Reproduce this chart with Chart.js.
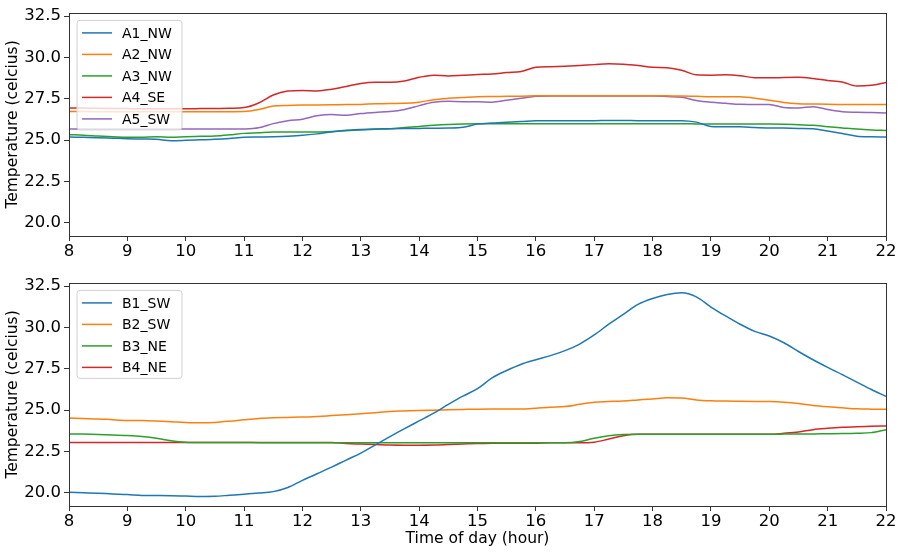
<!DOCTYPE html>
<html><head><meta charset="utf-8">
<script src="https://cdn.jsdelivr.net/npm/chart.js@4.4.1/dist/chart.umd.min.js"></script>
<style>
html,body{margin:0;padding:0;background:#fff;}
#wrap{position:relative;width:902px;height:554px;}
canvas{position:absolute;left:0;}
</style></head>
<body><div id="wrap">
<canvas id="c1" width="902" height="270" style="top:0"></canvas>
<canvas id="c2" width="902" height="284" style="top:270px"></canvas>
</div>
<script>
const hours = [8,8.25,8.5,8.75,9,9.25,9.5,9.75,10,10.25,10.5,10.75,11,11.25,11.5,11.75,12,12.25,12.5,12.75,13,13.25,13.5,13.75,14,14.25,14.5,14.75,15,15.25,15.5,15.75,16,16.25,16.5,16.75,17,17.25,17.5,17.75,18,18.25,18.5,18.75,19,19.25,19.5,19.75,20,20.25,20.5,20.75,21,21.25,21.5,21.75,22];
const xTicks = [8,9,10,11,12,13,14,15,16,17,18,19,20,21,22];
const yTicks = [20.0,22.5,25.0,27.5,30.0,32.5];

const A1_NW = [25.19,25.17,25.15,25.12, 25.09,25.07,25.05,24.97, 24.99,25.02,25.05,25.10, 25.17,25.19,25.21,25.24, 25.29,25.38,25.50,25.60, 25.65,25.68,25.69,25.70, 25.71,25.72,25.73,25.78, 25.97,26.04,26.09,26.13, 26.17,26.18,26.18,26.18, 26.18,26.19,26.19,26.18, 26.18,26.18,26.18,26.09, 25.83,25.81,25.81,25.77, 25.74,25.73,25.71,25.69, 25.55,25.40,25.24,25.20, 25.19];
const A2_NW = [26.73,26.73,26.72,26.72, 26.72,26.72,26.72,26.72, 26.72,26.72,26.72,26.72, 26.73,26.85,27.07,27.10, 27.12,27.13,27.14,27.15, 27.16,27.20,27.22,27.23, 27.30,27.45,27.53,27.58, 27.63,27.64,27.65,27.66, 27.68,27.69,27.69,27.69, 27.69,27.69,27.69,27.69, 27.69,27.68,27.67,27.65, 27.63,27.63,27.62,27.54, 27.41,27.28,27.21,27.19, 27.17,27.16,27.15,27.15, 27.15];
const A3_NW = [25.33,25.30,25.25,25.21, 25.17,25.18,25.21,25.17, 25.21,25.23,25.25,25.32, 25.41,25.45,25.49,25.49, 25.49,25.50,25.53,25.57, 25.62,25.66,25.69,25.76, 25.83,25.90,25.95,25.98, 25.99,25.99,25.99,25.99, 25.99,25.99,25.99,25.99, 25.99,25.99,25.99,25.99, 25.99,25.99,25.99,25.98, 25.98,25.98,25.97,25.97, 25.97,25.96,25.93,25.90, 25.81,25.74,25.67,25.62, 25.59];
const A4_SE = [26.95,26.94,26.93,26.92, 26.91,26.90,26.90,26.90, 26.90,26.91,26.92,26.93, 26.97,27.25,27.73,27.97, 28.01,27.98,28.08,28.25, 28.43,28.50,28.50,28.58, 28.80,28.93,28.88,28.92, 28.97,29.00,29.09,29.16, 29.41,29.44,29.47,29.52, 29.57,29.62,29.60,29.52, 29.41,29.38,29.23,28.95, 28.93,28.95,28.90,28.78, 28.77,28.79,28.80,28.73, 28.61,28.52,28.27,28.32, 28.49];
const A5_SW = [25.67,25.67,25.67,25.67, 25.67,25.67,25.67,25.67, 25.67,25.67,25.67,25.67, 25.68,25.75,26.00,26.18, 26.27,26.47,26.55,26.50, 26.61,26.68,26.73,26.86, 27.09,27.29,27.35,27.33, 27.33,27.30,27.42,27.53, 27.65,27.67,27.67,27.67, 27.67,27.67,27.67,27.67, 27.67,27.64,27.60,27.40, 27.29,27.23,27.17,27.16, 27.15,26.98,26.95,27.02, 26.85,26.72,26.69,26.67, 26.65];

const B1_SW = [20.03,20.00,19.97,19.93, 19.90,19.84,19.83,19.82, 19.80,19.78,19.79,19.85, 19.91,19.98,20.07,20.32, 20.75,21.15,21.55,21.98, 22.40,22.90,23.40,23.88, 24.35,24.82,25.35,25.85, 26.30,26.95,27.40,27.78, 28.05,28.30,28.60,29.00, 29.55,30.20,30.80,31.40, 31.76,32.00,32.10,31.85, 31.24,30.70,30.20,29.77, 29.49,29.08,28.55,28.05, 27.59,27.15,26.70,26.25, 25.83];
const B2_SW = [24.52,24.50,24.47,24.42, 24.38,24.37,24.34,24.30, 24.26,24.24,24.26,24.33, 24.42,24.50,24.54,24.56, 24.58,24.62,24.67,24.72, 24.78,24.85,24.92,24.95, 24.98,25.00,25.02,25.04, 25.06,25.07,25.07,25.07, 25.12,25.18,25.22,25.35, 25.48,25.52,25.56,25.62, 25.68,25.75,25.73,25.62, 25.57,25.55,25.54,25.53, 25.52,25.48,25.40,25.28, 25.20,25.14,25.08,25.06, 25.05];
const B3_NE = [23.56,23.55,23.53,23.50, 23.46,23.40,23.30,23.15, 23.06,23.04,23.04,23.04, 23.04,23.03,23.03,23.03, 23.03,23.02,23.02,23.02, 23.02,23.02,23.02,23.02, 23.02,23.02,23.02,23.02, 23.02,23.02,23.02,23.02, 23.02,23.02,23.02,23.10, 23.30,23.45,23.52,23.54, 23.54,23.54,23.54,23.54, 23.54,23.54,23.54,23.54, 23.54,23.55,23.56,23.56, 23.57,23.58,23.60,23.64, 23.82];
const B4_NE = [23.04,23.04,23.04,23.04, 23.04,23.04,23.04,23.04, 23.04,23.04,23.04,23.04, 23.04,23.04,23.04,23.04, 23.04,23.04,23.04,22.98, 22.95,22.92,22.89,22.88, 22.88,22.89,22.92,22.95, 22.98,23.00,23.00,23.00, 23.00,23.02,23.02,23.02, 23.06,23.25,23.45,23.54, 23.54,23.54,23.54,23.54, 23.54,23.54,23.54,23.54, 23.54,23.60,23.68,23.82, 23.90,23.96,24.00,24.03, 24.04];

const topNames = ['A1_NW','A2_NW','A3_NW','A4_SE','A5_SW'];
const topSeries = [A1_NW,A2_NW,A3_NW,A4_SE,A5_SW];
const botNames = ['B1_SW','B2_SW','B3_NE','B4_NE'];
const botSeries = [B1_SW,B2_SW,B3_NE,B4_NE];
const colors = ['#1f77b4','#ff7f0e','#2ca02c','#d62728','#9467bd'];

const FONT = '"DejaVu Sans", sans-serif';

const frameAndLegend = {
  id: 'frameAndLegend',
  afterDatasetsDraw(chart) {
    const {ctx, chartArea: a} = chart;
    ctx.save();
    // frame
    ctx.strokeStyle = '#333';
    ctx.lineWidth = 1;
    ctx.strokeRect(Math.round(a.left)+0.5, Math.round(a.top)+0.5, Math.round(a.right-a.left)-1+1, Math.round(a.bottom-a.top));
    // legend
    const ds = chart.data.datasets;
    const bx = a.left + 8, by = a.top + 7.5;
    const rowH = 21.5;
    const bw = 105, bh = 12.5 + (ds.length-1)*rowH + 11;
    const r = 3;
    ctx.beginPath();
    ctx.moveTo(bx+r, by);
    ctx.lineTo(bx+bw-r, by); ctx.quadraticCurveTo(bx+bw, by, bx+bw, by+r);
    ctx.lineTo(bx+bw, by+bh-r); ctx.quadraticCurveTo(bx+bw, by+bh, bx+bw-r, by+bh);
    ctx.lineTo(bx+r, by+bh); ctx.quadraticCurveTo(bx, by+bh, bx, by+bh-r);
    ctx.lineTo(bx, by+r); ctx.quadraticCurveTo(bx, by, bx+r, by);
    ctx.closePath();
    ctx.fillStyle = 'rgba(255,255,255,0.8)';
    ctx.fill();
    ctx.strokeStyle = '#d0d0d0';
    ctx.lineWidth = 1;
    ctx.stroke();
    ctx.font = '14px ' + FONT;
    ctx.textBaseline = 'middle';
    ctx.textAlign = 'left';
    ds.forEach((d, i) => {
      const y = by + 12.5 + i*rowH;
      ctx.strokeStyle = d.borderColor;
      ctx.lineWidth = 1.5;
      ctx.beginPath(); ctx.moveTo(bx+5, y); ctx.lineTo(bx+35, y); ctx.stroke();
      ctx.fillStyle = '#000';
      ctx.fillText(d.label, bx+45, y+1);
    });
    ctx.restore();
  }
};

function makeChart(id, names, series, showXTitle, xAxisH, padTop) {
  const datasets = names.map((n, i) => ({
    label: n,
    data: hours.map((h, j) => ({x: h, y: series[i][j]})),
    borderColor: colors[i],
    backgroundColor: colors[i],
    borderWidth: 1.5,
    pointRadius: 0,
    tension: 0,
    cubicInterpolationMode: 'monotone',
    fill: false
  }));
  return new Chart(document.getElementById(id), {
    type: 'line',
    data: {datasets},
    plugins: [frameAndLegend],
    options: {
      responsive: false,
      animation: false,
      devicePixelRatio: 1,
      layout: {padding: {top: padTop, left: 0, right: 16, bottom: 0}},
      plugins: {legend: {display: false}, tooltip: {enabled: false}},
      scales: {
        x: {
          type: 'linear', min: 8, max: 22,
          afterBuildTicks: s => { s.ticks = xTicks.map(v => ({value: v})); },
          afterFit: s => { s.height = xAxisH; },
          grid: {display: true, drawOnChartArea: false, drawTicks: true, tickLength: 5, color: '#333', tickColor: '#333'},
          border: {display: false},
          ticks: {color: '#000', font: {family: FONT, size: 16.5}, padding: 1, maxRotation: 0, autoSkip: false,
                  callback: v => String(v)},
          title: {display: showXTitle, text: 'Time of day (hour)', color: '#000', font: {family: FONT, size: 15.5}, padding: {top: 0, bottom: 6}}
        },
        y: {
          type: 'linear', min: 19.2, max: 32.7,
          afterBuildTicks: s => { s.ticks = yTicks.map(v => ({value: v})); },
          afterFit: s => { s.width = 69; },
          grid: {display: true, drawOnChartArea: false, drawTicks: true, tickLength: 5, color: '#333', tickColor: '#333'},
          border: {display: false},
          ticks: {color: '#000', font: {family: FONT, size: 16.5}, padding: 3, autoSkip: false,
                  callback: v => Number(v).toFixed(1)},
          title: {display: true, text: 'Temperature (celcius)', color: '#000', font: {family: FONT, size: 15.5}, padding: {top: 4, bottom: 0}}
        }
      }
    }
  });
}

makeChart('c1', topNames, topSeries, false, 34, 11);
makeChart('c2', botNames, botSeries, true, 48, 12);
</script>
</body></html>
